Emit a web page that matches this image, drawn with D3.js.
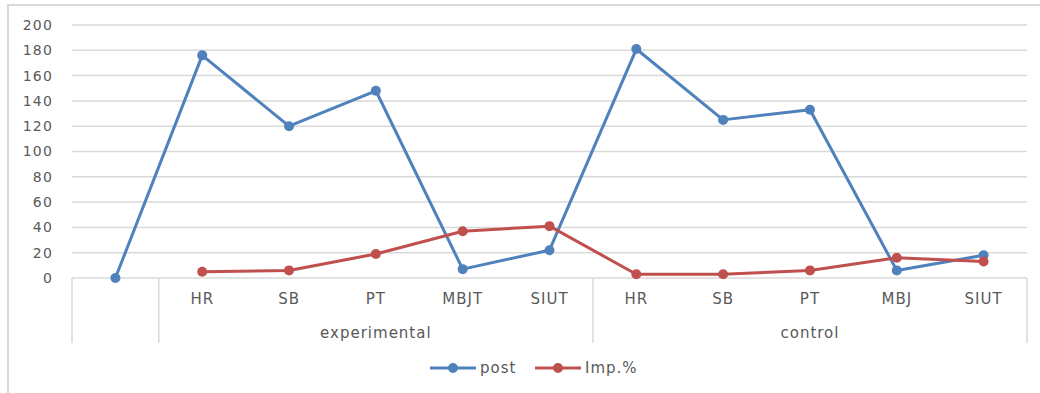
<!DOCTYPE html>
<html>
<head>
<meta charset="utf-8">
<script src="https://cdn.jsdelivr.net/npm/d3@7"></script>
<style>
  body { margin: 0; background: #fff; }
  text { font-family: "DejaVu Sans", sans-serif; fill: #595959; }
</style>
</head>
<body>
<div id="chart"></div>
<script>
// categories along the bottom (first slot is an unnamed baseline)
const tickLabels = ["", "HR", "SB", "PT", "MBJT", "SIUT", "HR", "SB", "PT", "MBJ", "SIUT"];
const groups = [
  { name: "", from: 0, to: 0 },
  { name: "experimental", from: 1, to: 5 },
  { name: "control", from: 6, to: 10 }
];
const postValues = [0, 176, 120, 148, 7, 22, 181, 125, 133, 6, 18];
const impValues = [null, 5, 6, 19, 37, 41, 3, 3, 6, 16, 13];
const yTicks = [0, 20, 40, 60, 80, 100, 120, 140, 160, 180, 200];

const width = 1040, height = 393;
const margin = { top: 25, right: 13, bottom: 115, left: 72 };
const innerW = width - margin.left - margin.right;
const innerH = height - margin.top - margin.bottom;

const blue = "#4f81bd", red = "#c0504d", grid = "#d9d9d9";

const svg = d3.select("#chart").append("svg")
  .attr("width", width)
  .attr("height", height);

// outer chart border
svg.append("rect")
  .attr("x", 8).attr("y", 5)
  .attr("width", width).attr("height", height)
  .attr("fill", "none")
  .attr("stroke", grid)
  .attr("stroke-width", 2);

const g = svg.append("g")
  .attr("transform", `translate(${margin.left},${margin.top})`);

const x = d3.scaleBand()
  .domain(d3.range(tickLabels.length))
  .range([0, innerW]);

const y = d3.scaleLinear()
  .domain([0, 200])
  .range([innerH, 0]);

// gridlines
g.selectAll("line.grid")
  .data(yTicks.filter(d => d > 0))
  .enter().append("line")
  .attr("class", "grid")
  .attr("x1", 0).attr("x2", innerW)
  .attr("y1", d => y(d)).attr("y2", d => y(d))
  .attr("stroke", grid)
  .attr("stroke-width", 1.5);

// y labels
g.selectAll("text.ylab")
  .data(yTicks)
  .enter().append("text")
  .attr("class", "ylab")
  .attr("x", -19)
  .attr("y", d => y(d))
  .attr("dy", "0.35em")
  .attr("text-anchor", "end")
  .attr("font-size", "14px")
  .attr("letter-spacing", "1.2px")
  .text(d => d);

// category axis line
g.append("line")
  .attr("x1", 0).attr("x2", innerW)
  .attr("y1", innerH).attr("y2", innerH)
  .attr("stroke", grid)
  .attr("stroke-width", 1.5);

// group separators
const sepBottom = innerH + 65;
const sepX = [0].concat(groups.map(d => x(d.to) + x.bandwidth()));
g.selectAll("line.sep")
  .data(sepX)
  .enter().append("line")
  .attr("class", "sep")
  .attr("x1", d => d).attr("x2", d => d)
  .attr("y1", innerH).attr("y2", sepBottom)
  .attr("stroke", grid)
  .attr("stroke-width", 1.5);

// tick labels
g.selectAll("text.tick")
  .data(tickLabels)
  .enter().append("text")
  .attr("class", "tick")
  .attr("x", (d, i) => x(i) + x.bandwidth() / 2)
  .attr("y", innerH + 21)
  .attr("dy", "0.35em")
  .attr("text-anchor", "middle")
  .attr("font-size", "15px")
  .attr("letter-spacing", "1px")
  .text(d => d);

// group labels
g.selectAll("text.group")
  .data(groups)
  .enter().append("text")
  .attr("class", "group")
  .attr("x", d => (x(d.from) + x(d.to) + x.bandwidth()) / 2)
  .attr("y", innerH + 55)
  .attr("dy", "0.35em")
  .attr("text-anchor", "middle")
  .attr("font-size", "15px")
  .attr("letter-spacing", "1px")
  .text(d => d.name);

// lines
const line = d3.line()
  .defined(d => d != null)
  .x((d, i) => x(i) + x.bandwidth() / 2)
  .y(d => y(d));

function drawSeries(values, color) {
  g.append("path")
    .datum(values)
    .attr("fill", "none")
    .attr("stroke", color)
    .attr("stroke-width", 3)
    .attr("stroke-linejoin", "round")
    .attr("d", line);
  g.selectAll(null)
    .data(values.map((v, i) => ({ v, i })).filter(d => d.v != null))
    .enter().append("circle")
    .attr("cx", d => x(d.i) + x.bandwidth() / 2)
    .attr("cy", d => y(d.v))
    .attr("r", 5)
    .attr("fill", color);
}

drawSeries(postValues, blue);
drawSeries(impValues, red);

// legend
const legendItems = [
  { name: "post", color: blue, x: 430 },
  { name: "Imp.%", color: red, x: 535 }
];
const legend = svg.append("g").attr("transform", "translate(0,368)");
legendItems.forEach(d => {
  legend.append("line")
    .attr("x1", d.x).attr("x2", d.x + 46)
    .attr("stroke", d.color).attr("stroke-width", 3);
  legend.append("circle")
    .attr("cx", d.x + 23).attr("r", 5).attr("fill", d.color);
  legend.append("text")
    .attr("x", d.x + 50)
    .attr("dy", "0.35em")
    .attr("font-size", "15px")
    .attr("letter-spacing", "1px")
    .text(d.name);
});
</script>
</body>
</html>
